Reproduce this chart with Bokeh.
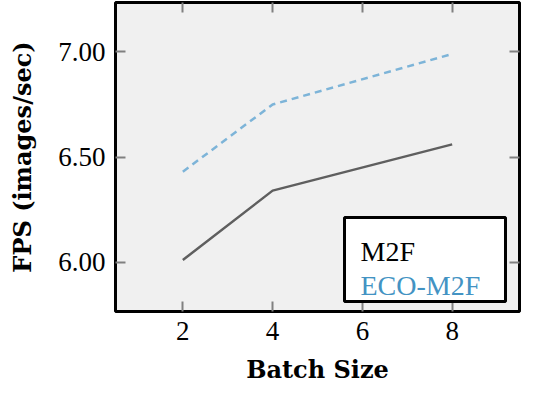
from bokeh.plotting import figure
from bokeh.models import (FixedTicker, NumeralTickFormatter, LinearAxis, Range1d,
                          BoxAnnotation, Label)
from bokeh.embed import file_html
from bokeh.resources import INLINE

batch_sizes = [2, 4, 8]
m2f_fps = [6.01, 6.34, 6.56]
eco_m2f_fps = [6.43, 6.75, 6.99]
x_ticks = [2, 4, 6, 8]
y_ticks = [6.0, 6.5, 7.0]
series_names = ["M2F", "ECO-M2F"]

FONT = "Liberation Serif"
LABEL_FONT = "DejaVu Serif"
FS = "27px"
TICK_GRAY = "#808080"

p = figure(width=521, height=386, output_backend="svg", toolbar_location=None,
           x_range=Range1d(0.5, 9.5), y_range=Range1d(5.765, 7.235),
           min_border_left=115, min_border_right=2, min_border_top=2,
           min_border_bottom=68)
p.background_fill_color = "#f0f0f0"
p.border_fill_color = "white"
p.outline_line_color = "black"
p.outline_line_width = 3
p.xgrid.visible = False
p.ygrid.visible = False

p.line(batch_sizes, m2f_fps, line_color="#5f5f5f", line_width=2.5)
p.line(batch_sizes, eco_m2f_fps, line_color="#7db4d8", line_width=2.5, line_dash="7 5")

xa = p.xaxis[0]
xa.ticker = FixedTicker(ticks=x_ticks)
ya = p.yaxis[0]
ya.ticker = FixedTicker(ticks=y_ticks)
ya.formatter = NumeralTickFormatter(format="0.00")

for ax in (xa, ya):
    ax.axis_line_color = None
    ax.major_tick_in = 10
    ax.major_tick_out = 0
    ax.major_tick_line_color = TICK_GRAY
    ax.major_tick_line_width = 2
    ax.minor_tick_line_color = None
    ax.major_label_text_font = FONT
    ax.major_label_text_font_size = FS
    ax.major_label_text_color = "black"
    ax.axis_label_text_font = LABEL_FONT
    ax.axis_label_text_font_size = "24px"
    ax.axis_label_text_font_style = "bold"
    ax.axis_label_text_color = "black"
    ax.major_label_standoff = 10

xa.axis_label = "Batch Size"
xa.axis_label_standoff = 12
ya.axis_label = "FPS (images/sec)"
ya.axis_label_standoff = 18

top = LinearAxis(ticker=FixedTicker(ticks=x_ticks),
                 major_label_overrides={t: "" for t in x_ticks})
right = LinearAxis(ticker=FixedTicker(ticks=y_ticks),
                   major_label_overrides={t: "" for t in y_ticks})
for ax in (top, right):
    ax.axis_line_color = None
    ax.major_tick_in = 10
    ax.major_tick_out = 0
    ax.major_tick_line_color = TICK_GRAY
    ax.major_tick_line_width = 2
    ax.minor_tick_line_color = None
    ax.major_label_standoff = 0
p.add_layout(top, "above")
p.add_layout(right, "right")

# legend (manual, text-only, coloured labels)
box = BoxAnnotation(left=229, right=390, bottom=10, top=94,
                    left_units="screen", right_units="screen",
                    bottom_units="screen", top_units="screen",
                    fill_color="white", fill_alpha=1.0,
                    line_color="black", line_width=3, line_alpha=1.0)
p.add_layout(box)
legend_colors = ["black", "#4393c3"]
legend_y = [60, 26]
for name, col, yy in zip(series_names, legend_colors, legend_y):
    p.add_layout(Label(x=245, y=yy, x_units="screen", y_units="screen",
                       text=name, text_color=col, text_font=FONT,
                       text_font_size="28px", text_baseline="alphabetic"))

open("out.html", "w").write(file_html(p, INLINE))
